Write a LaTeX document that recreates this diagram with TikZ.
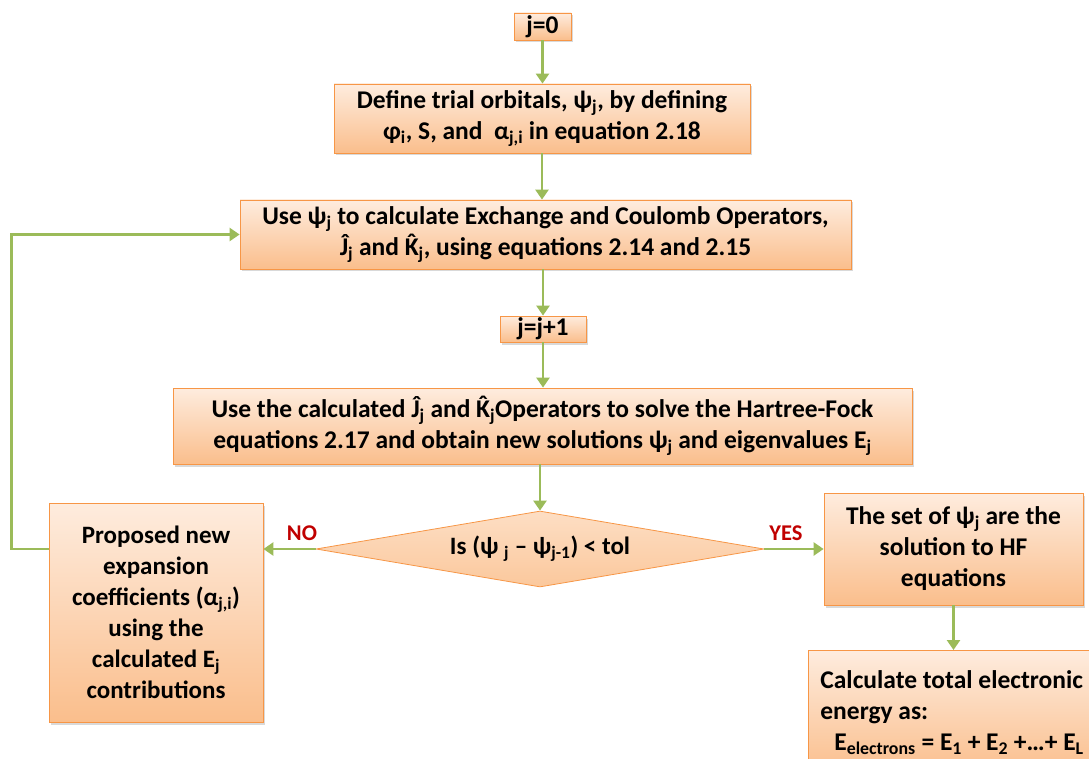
\documentclass[tikz,border=0pt]{standalone}
\usepackage{fontspec}
\setmainfont{Carlito}
\usetikzlibrary{shapes.geometric,arrows.meta,shadows,calc}
\definecolor{bord}{RGB}{247,150,70}
\definecolor{ftop}{RGB}{254,236,222}
\definecolor{fbot}{RGB}{250,190,140}
\definecolor{dtop}{RGB}{253,222,196}
\definecolor{dbot}{RGB}{251,200,156}
\definecolor{grn}{RGB}{155,187,89}
\definecolor{lab}{RGB}{192,0,0}
\newcommand\hK{{\accent"02C6 K}}
\newcommand\sub[1]{\textsubscript{#1}}
\begin{document}
\begin{tikzpicture}[x=1pt,y=-1pt,
  box/.style={draw=bord, line width=0.8pt, top color=ftop, bottom color=fbot,
    drop shadow={opacity=0.3,shadow xshift=1.5pt,shadow yshift=-2.5pt},
    inner sep=0pt, align=center, font=\fontsize{25.5}{31}\selectfont\bfseries},
  dia/.style={shape=diamond, draw=bord, line width=0.8pt, top color=dtop, bottom color=dbot,
    inner sep=0pt, aspect=5.9, align=center, font=\fontsize{25}{31}\selectfont\bfseries},
  arr/.style={draw=grn, line width=2.8pt, -{Triangle[width=13pt,length=10pt]}},
  lbl/.style={text=lab, font=\fontsize{22.5}{26}\selectfont\bfseries}]
\useasboundingbox (0,0) rectangle (1089,759);
\clip (0,0) rectangle (1089,759);

\node[box, minimum width=57pt, minimum height=27pt] (j0) at (542.5,26.5) {j=0};
\node[box, minimum width=416pt, minimum height=69pt] (def) at (542,118.5)
  {Define trial orbitals, ψ\sub{j}, by defining\\ φ\sub{i}, S, and \ α\sub{j,i} in equation 2.18};
\node[box, minimum width=611pt, minimum height=69pt] (use) at (545.5,234.5)
  {Use ψ\sub{j} to calculate Exchange and Coulomb Operators,\\ Ĵ\sub{j} and \hK\sub{j}, using equations 2.14 and 2.15};
\node[box, minimum width=86pt, minimum height=26pt] (jj) at (543,329) {j=j+1};
\node[box, minimum width=739pt, minimum height=76pt] (calc) at (542.5,426)
  {Use the calculated Ĵ\sub{j} and \hK\sub{j}Operators to solve the Hartree-Fock\\ equations 2.17 and obtain new solutions ψ\sub{j} and eigenvalues E\sub{j}};
\node[dia, minimum width=448pt, minimum height=76pt] (d) at (540,549)
  {Is (ψ \sub{j} – ψ\sub{j-1}) < tol};
\node[box, minimum width=214pt, minimum height=219pt, font=\fontsize{25}{31}\selectfont\bfseries] (prop) at (156,612.5)
  {Proposed new\\ expansion\\ coefficients (α\sub{j,i})\\ using the\\ calculated E\sub{j}\\ contributions};
\node[box, minimum width=259pt, minimum height=112pt] (yes) at (953.5,549)
  {The set of ψ\sub{j} are the\\ solution to HF\\ equations};
\node[box, anchor=north west, text width=300pt, inner xsep=12pt, align=flush left, minimum height=124pt] (tot) at (808,650)
  {Calculate total electronic\\ energy as:\\ \hspace*{14pt}E\sub{electrons} = E\sub{1} + E\sub{2} +…+ E\sub{L}};

\node[lbl] (no) at (302,533) {NO};
\node[lbl] (ys) at (786,533) {YES};

\draw[arr] (j0.south) -- (j0.south |- def.north);
\draw[arr] (def.south) -- (def.south |- use.north);
\draw[arr] (jj.north |- use.south) -- (jj.north);
\draw[arr] (jj.south) -- (jj.south |- calc.north);
\draw[arr] (d.north |- calc.south) -- (d.north);
\draw[arr] (d.west) -- (d.west -| prop.east);
\draw[arr] (d.east) -- (d.east -| yes.west);
\draw[arr] (yes.south) -- (yes.south |- tot.north);
\draw[arr] (prop.west |- d.west) -- ++(-37,0) |- (use.west);
\end{tikzpicture}
\end{document}
